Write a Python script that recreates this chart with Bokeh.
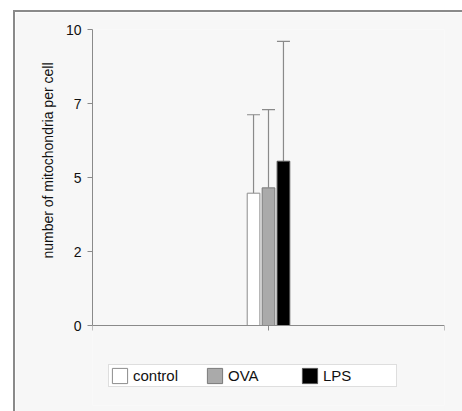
import math
from bokeh.plotting import figure
from bokeh.models import Range1d, FixedTicker, Whisker, TeeHead, ColumnDataSource, Title, Legend, LegendItem
from bokeh.embed import file_html
from bokeh.resources import INLINE

# ---- data ----
groups = ["control", "OVA", "LPS"]
means = [4.47, 4.65, 5.55]
sds = [2.65, 2.64, 4.05]
y_ticks = [0, 2.5, 5, 7.5, 10]
y_tick_labels = ["0", "2", "5", "7", "10"]
y_title = "number of mitochondria per cell"

# ---- styles ----
fills = ["#ffffff", "#aaaaaa", "#000000"]
outlines = ["#8c8c8c", "#7a7a7a", "#555555"]
offsets = [-0.085, 0.0, 0.085]
center = 1.0
bar_w = 0.072
FONT = "Liberation Sans"
px_per_unit = 29.6
below_px = 80  # frame space below the zero line (room for the legend)

p = figure(width=447, height=399, frame_width=352, frame_height=376,
           output_backend="svg", toolbar_location=None,
           x_range=Range1d(0, 2), y_range=Range1d(-below_px / px_per_unit, 10),
           min_border_left=77, min_border_right=18, min_border_top=17, min_border_bottom=6)
p.margin = (10, 0, 0, 13)
p.styles = {"border-top": "2px solid #8a8a8a", "border-left": "2px solid #8a8a8a"}
p.background_fill_color = "#f7f7f7"
p.border_fill_color = "#f7f7f7"
p.outline_line_color = None
p.grid.visible = False

xs = [center + o for o in offsets]
src = ColumnDataSource(dict(x=xs, top=means, lower=means,
                            upper=[m + s for m, s in zip(means, sds)]))

wh = Whisker(base="x", lower="lower", upper="upper", source=src,
             line_color="#8a8a8a", line_width=1.2,
             upper_head=TeeHead(size=13, line_color="#8a8a8a", line_width=1.2),
             lower_head=None, level="underlay")
p.add_layout(wh)

items = []
for i, g in enumerate(groups):
    r = p.vbar(x=[xs[i]], top=[means[i]], width=bar_w, bottom=0,
               fill_color=fills[i], line_color=outlines[i], line_width=1)
    items.append(LegendItem(label=g, renderers=[r]))

p.yaxis.ticker = FixedTicker(ticks=y_ticks)
p.yaxis.bounds = (0, 10)
p.yaxis.major_label_overrides = {t: l for t, l in zip(y_ticks, y_tick_labels)}
p.yaxis.minor_tick_line_color = None
p.yaxis.major_tick_out = 5
p.yaxis.major_tick_in = 0
p.yaxis.axis_line_color = "#8a8a8a"
p.yaxis.major_tick_line_color = "#8a8a8a"
p.yaxis.major_label_text_font = FONT
p.yaxis.major_label_text_font_size = "14px"
p.yaxis.major_label_text_color = "#111111"
p.yaxis.major_label_standoff = 6

p.xaxis.fixed_location = 0
p.xaxis.ticker = FixedTicker(ticks=[0, 1, 2])
p.xaxis.major_label_overrides = {0: "", 1: "", 2: ""}
p.xaxis.minor_tick_line_color = None
p.xaxis.major_tick_out = 5
p.xaxis.major_tick_in = 0
p.xaxis.axis_line_color = "#8a8a8a"
p.xaxis.major_tick_line_color = "#8a8a8a"

title = Title(text=y_title, align="right", offset=33, standoff=14,
              text_font=FONT, text_font_size="14px", text_font_style="normal",
              text_color="#111111")
p.add_layout(title, "left")

legend = Legend(items=items, orientation="horizontal", location=(16, 18),
                glyph_width=19, glyph_height=19, label_height=19,
                label_standoff=4, label_width=72,
                spacing=0, padding=1, margin=0,
                border_line_color="#bdbdbd", background_fill_color="#ffffff",
                label_text_font=FONT, label_text_font_size="15px", label_text_color="#111111")
p.add_layout(legend)

open("out.html", "w").write(file_html(p, INLINE))
